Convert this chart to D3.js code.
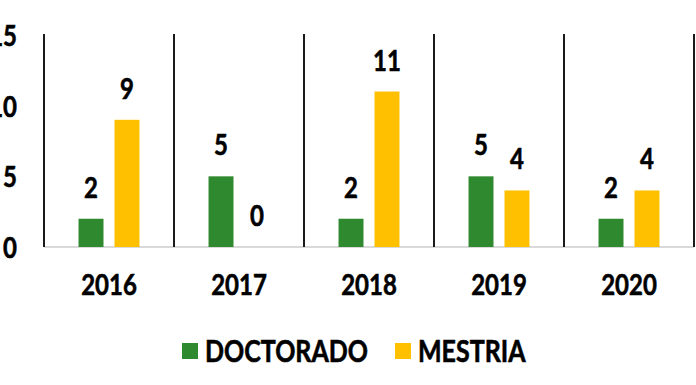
<!DOCTYPE html>
<html>
<head>
<meta charset="utf-8">
<script src="https://cdn.jsdelivr.net/npm/d3@7"></script>
<style>
  body { margin: 0; background: #fff; }
  text { font-family: Lato, "Open Sans", sans-serif; font-weight: 700; fill: #000;
         stroke: #000; stroke-width: 0.5px; }
</style>
</head>
<body>
<script>
// data
var years = ["2016", "2017", "2018", "2019", "2020"];
var doctorado = [2, 5, 2, 5, 2];
var mestria = [9, 0, 11, 4, 4];
var seriesNames = ["DOCTORADO", "MESTRIA"];
var seriesColors = ["#2f8a2f", "#ffc000"];
var yTicks = [0, 5, 10, 15];

var svg_width = 696, svg_height = 385;
var plotLeft = 44, plotRight = 694, plotTop = 35, plotBase = 247;
var sy = 1.2; // glyphs in the original are a bit stretched vertically

var svg = d3.select("body").append("svg")
  .attr("width", svg_width)
  .attr("height", svg_height);

var x = d3.scaleBand().domain(years).range([plotLeft, plotRight]);
var xIn = d3.scaleBand().domain(seriesNames).range([0, x.bandwidth()])
  .paddingInner(0.306).paddingOuter(0.96);
var y = d3.scaleLinear().domain([0, 15]).range([plotBase, plotTop]);

// baseline
svg.append("line")
  .attr("x1", plotLeft).attr("x2", plotRight)
  .attr("y1", plotBase).attr("y2", plotBase)
  .attr("stroke", "#d9d9d9").attr("stroke-width", 2);

// separators between the years
var seps = years.map(function (d) { return x(d); }).concat([plotRight]);
svg.selectAll("line.sep")
  .data(seps)
  .enter().append("line")
  .attr("class", "sep")
  .attr("x1", function (d) { return d; }).attr("x2", function (d) { return d; })
  .attr("y1", plotTop - 1).attr("y2", plotBase)
  .attr("stroke", "#1a1a1a").attr("stroke-width", 2);

// y axis
var yAxis = svg.append("g")
  .attr("transform", "translate(" + plotLeft + ",0)")
  .call(d3.axisLeft(y).tickValues(yTicks).tickSize(0).tickPadding(27));
yAxis.select(".domain").remove();
yAxis.selectAll("text")
  .attr("font-size", 24).attr("font-family", null)
  .attr("dy", "0.36em")
  .attr("transform", "scale(1," + sy + ")");

// x axis
var xAxis = svg.append("g")
  .attr("transform", "translate(0," + plotBase + ")")
  .call(d3.axisBottom(x).tickSize(0).tickPadding(0));
xAxis.select(".domain").remove();
xAxis.selectAll("text")
  .attr("font-size", 24).attr("font-family", null)
  .attr("y", 28 / sy)
  .attr("transform", "scale(1," + sy + ")");

// bars
var rows = [];
years.forEach(function (yr, i) {
  rows.push({ year: yr, s: 0, v: doctorado[i] });
  rows.push({ year: yr, s: 1, v: mestria[i] });
});

svg.selectAll("rect.bar")
  .data(rows)
  .enter().append("rect")
  .attr("class", "bar")
  .attr("x", function (d) { return x(d.year) + xIn(seriesNames[d.s]); })
  .attr("y", function (d) { return y(d.v); })
  .attr("width", xIn.bandwidth())
  .attr("height", function (d) { return plotBase - y(d.v); })
  .attr("fill", function (d) { return seriesColors[d.s]; });

svg.selectAll("text.val")
  .data(rows)
  .enter().append("text")
  .attr("class", "val")
  .attr("text-anchor", "middle")
  .attr("font-size", 24)
  .attr("transform", function (d) {
    var cx = x(d.year) + xIn(seriesNames[d.s]) + xIn.bandwidth() / 2;
    return "translate(" + cx + "," + (y(d.v) - 21) + ") scale(1," + sy + ")";
  })
  .text(function (d) { return d.v; });

// legend
var legend = svg.append("g").attr("transform", "translate(182,343)");
var item = legend.selectAll("g")
  .data(seriesNames)
  .enter().append("g")
  .attr("transform", function (d, i) { return "translate(" + (i * 213) + ",0)"; });
item.append("rect")
  .attr("width", 16).attr("height", 16)
  .attr("fill", function (d, i) { return seriesColors[i]; });
item.append("text")
  .attr("transform", "translate(23,8) scale(1," + sy + ")")
  .attr("dy", "0.36em")
  .attr("font-size", 25)
  .text(function (d) { return d; });
</script>
</body>
</html>
